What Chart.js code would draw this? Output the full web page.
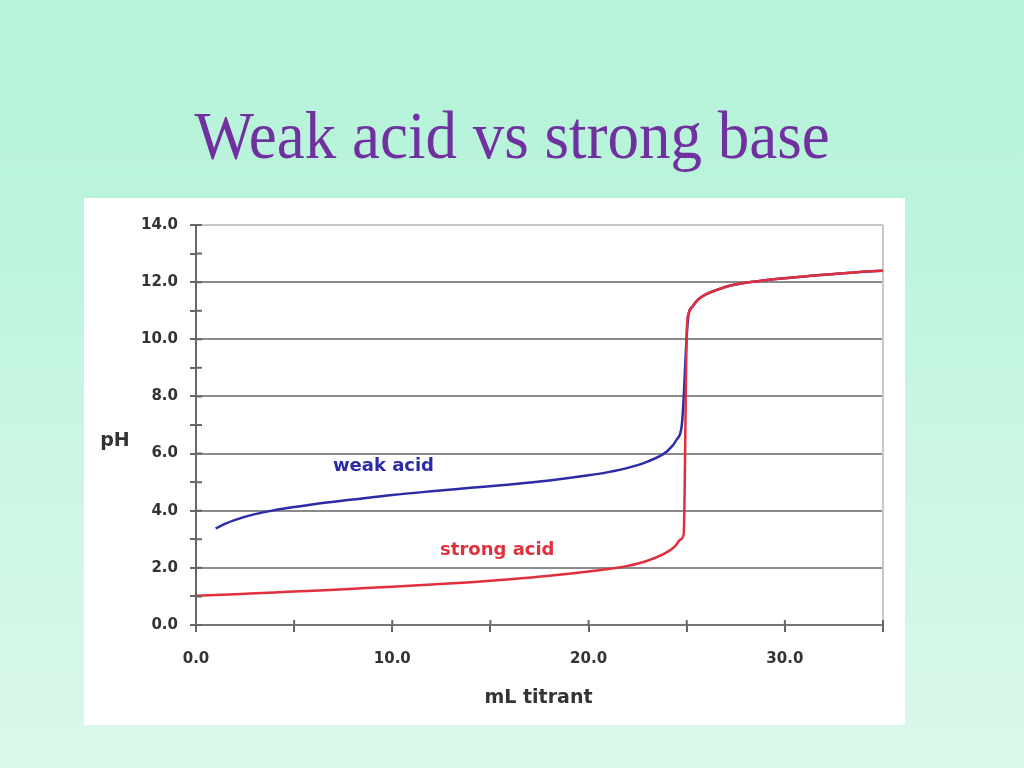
<!DOCTYPE html>
<html>
<head>
<meta charset="utf-8">
<script src="https://cdn.jsdelivr.net/npm/chart.js@4"></script>
<style>
  html, body { margin: 0; padding: 0; }
  body {
    width: 1024px; height: 768px; overflow: hidden; position: relative;
    background: linear-gradient(to bottom, #b6f3d9 0%, #b9f4db 25%, #c9f6e2 55%, #dbf8eb 100%);
  }
  h1 {
    position: absolute; left: 0; top: 104px; width: 1024px; margin: 0;
    text-align: center; font: 63px "Liberation Serif", "Times New Roman", serif;
    font-weight: normal; color: #7030a0; line-height: 1;
    transform: scaleY(1.08);
  }
  #box { position: absolute; left: 84px; top: 198px; width: 821px; height: 527px; background: #fff; }
  #box canvas { display: block; }
</style>
</head>
<body>
<h1>Weak acid vs strong base</h1>
<div id="box"><canvas id="titration" width="821" height="527"></canvas></div>
<script>
// mL of titrant added
const strongX = [0, 2, 4, 6, 8, 10, 12, 14, 16, 18, 20, 21, 22, 23, 24, 24.4, 24.7, 24.85, 24.9, 24.95, 25.0, 25.1, 25.3, 25.6, 26, 26.5, 27, 28, 29, 30, 31, 32, 33, 34, 35];
const strongPH = [1.02, 1.08, 1.14, 1.2, 1.27, 1.34, 1.42, 1.5, 1.6, 1.72, 1.87, 1.96, 2.07, 2.25, 2.55, 2.75, 3.0, 3.2, 5.0, 8.0, 10.3, 10.9, 11.15, 11.4, 11.58, 11.72, 11.84, 11.98, 12.07, 12.14, 12.2, 12.26, 12.31, 12.36, 12.4];

const weakX = [1, 1.5, 2, 3, 4, 5, 6, 8, 10, 12, 14, 16, 18, 20, 21, 22, 23, 24, 24.5, 24.75, 24.85, 24.95, 25.05, 25.1, 25.3, 25.6, 26, 26.5, 27, 28, 29, 30, 31, 32, 33, 34, 35];
const weakPH = [3.38, 3.55, 3.68, 3.88, 4.02, 4.13, 4.23, 4.39, 4.55, 4.68, 4.8, 4.92, 5.06, 5.24, 5.35, 5.5, 5.72, 6.08, 6.5, 7.0, 8.0, 9.5, 10.6, 10.9, 11.15, 11.4, 11.58, 11.72, 11.84, 11.98, 12.07, 12.14, 12.2, 12.26, 12.31, 12.36, 12.4];

const xTicks = [0, 5, 10, 15, 20, 25, 30, 35];
const xLabelled = [0, 10, 20, 30];
const yLabelled = [0, 2, 4, 6, 8, 10, 12, 14];

const curveLabels = [
    { text: "weak acid", x: 9.55, y: 5.55, color: "#2b2ba8" },
    { text: "strong acid", x: 15.35, y: 2.6, color: "#e0303c" }
];

const toPoints = (xs, ys) => xs.map((x, i) => ({ x, y: ys[i] }));

const BOLD = "DejaVu Sans";

// labels on the curves, axis titles, the light frame and the ticks that cross the axes
const extras = {
    id: "extras",
    beforeDatasetsDraw(chart) {
        const { ctx, chartArea: a } = chart;
        ctx.save();
        ctx.strokeStyle = "#c8c8c8";
        ctx.lineWidth = 2;
        ctx.beginPath();
        ctx.moveTo(a.right, a.top);
        ctx.lineTo(a.right, a.bottom);
        ctx.stroke();
        ctx.restore();
    },
    afterDraw(chart) {
        const { ctx, chartArea: a, scales } = chart;
        ctx.save();
        ctx.strokeStyle = "#666";
        ctx.lineWidth = 2;
        ctx.beginPath();
        for (let v = 0; v <= 14; v++) {
            const py = scales.y.getPixelForValue(v);
            ctx.moveTo(a.left, py);
            ctx.lineTo(a.left + 6, py);
        }
        xTicks.forEach((v) => {
            const px = scales.x.getPixelForValue(v);
            ctx.moveTo(px, a.bottom);
            ctx.lineTo(px, a.bottom - 5);
        });
        ctx.stroke();

        ctx.font = "bold 18px " + BOLD;
        ctx.textAlign = "center";
        ctx.textBaseline = "middle";
        curveLabels.forEach((l) => {
            ctx.fillStyle = l.color;
            ctx.fillText(l.text, scales.x.getPixelForValue(l.x), scales.y.getPixelForValue(l.y));
        });

        ctx.fillStyle = "#333";
        ctx.font = "bold 19px " + BOLD;
        ctx.fillText("pH", 31, 243);
        ctx.fillText("mL titrant", (a.left + a.right) / 2 - 1, 500);
        ctx.restore();
    }
};

new Chart(document.getElementById("titration"), {
    type: "scatter",
    data: {
        datasets: [
            {
                label: "weak acid",
                data: toPoints(weakX, weakPH),
                showLine: true,
                borderColor: "#2b2ba8",
                borderWidth: 2.5,
                pointRadius: 0,
                cubicInterpolationMode: "monotone",
                order: 1
            },
            {
                label: "strong acid",
                data: toPoints(strongX, strongPH),
                showLine: true,
                borderColor: "#e0303c",
                borderWidth: 2.5,
                pointRadius: 0,
                cubicInterpolationMode: "monotone",
                order: 0
            }
        ]
    },
    options: {
        responsive: false,
        animation: false,
        layout: { padding: { top: 27, right: 22, left: 0, bottom: 0 } },
        scales: {
            x: {
                type: "linear",
                min: 0,
                max: 35,
                afterFit: (scale) => { scale.height = 100; },
                afterBuildTicks: (scale) => { scale.ticks = xTicks.map((v) => ({ value: v })); },
                ticks: {
                    padding: 18,
                    maxRotation: 0,
                    color: "#333",
                    font: { family: BOLD, size: 15, weight: "bold" },
                    callback: (v) => xLabelled.includes(v) ? v.toFixed(1) : ""
                },
                grid: {
                    drawOnChartArea: false,
                    color: "#666",
                    lineWidth: 2,
                    tickLength: 7
                },
                border: { color: "#777", width: 2 }
            },
            y: {
                min: 0,
                max: 14,
                afterFit: (scale) => { scale.width = 112; },
                ticks: {
                    stepSize: 1,
                    padding: 12,
                    color: "#333",
                    font: { family: BOLD, size: 15, weight: "bold" },
                    callback: (v) => yLabelled.includes(v) ? v.toFixed(1) : ""
                },
                grid: {
                    color: (c) => {
                        const v = c.tick.value;
                        if (v % 2 !== 0) return "rgba(0,0,0,0)";
                        return v === 14 ? "#c8c8c8" : "#8a8a8a";
                    },
                    tickColor: "#666",
                    lineWidth: 2,
                    tickLength: 6
                },
                border: { color: "#666", width: 2 }
            }
        },
        plugins: {
            legend: { display: false },
            tooltip: { enabled: false }
        }
    },
    plugins: [extras]
});
</script>
</body>
</html>
